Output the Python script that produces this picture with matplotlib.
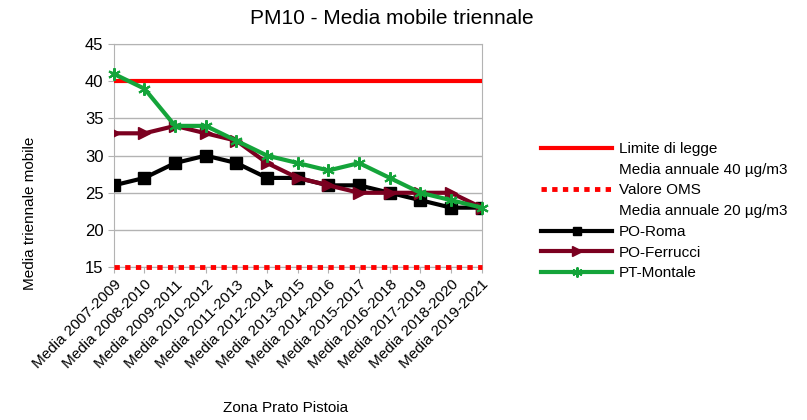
import matplotlib.pyplot as plt
from matplotlib.lines import Line2D
import numpy as np

plt.rcParams['font.family'] = ['Liberation Sans', 'DejaVu Sans']

# %% data
periodi = ['Media 2007-2009', 'Media 2008-2010', 'Media 2009-2011', 'Media 2010-2012',
           'Media 2011-2013', 'Media 2012-2014', 'Media 2013-2015', 'Media 2014-2016',
           'Media 2015-2017', 'Media 2016-2018', 'Media 2017-2019', 'Media 2018-2020',
           'Media 2019-2021']
po_roma = [26, 27, 29, 30, 29, 27, 27, 26, 26, 25, 24, 23, 23]
po_ferrucci = [33, 33, 34, 33, 32, 29, 27, 26, 25, 25, 25, 25, 23]
pt_montale = [41, 39, 34, 34, 32, 30, 29, 28, 29, 27, 25, 24, 23]
limite_legge = 40
valore_oms = 15

# %% plot
fig = plt.figure(figsize=(8.07, 4.2), dpi=100)
ax = fig.add_axes([0.141, 0.364, 0.456, 0.531])
x = np.arange(len(periodi))

l1, = ax.plot(x, [limite_legge] * len(x), color='#ff0000', lw=3, zorder=3)
l2, = ax.plot(x, [valore_oms] * len(x), color='#ff0000', lw=3.5, dashes=(1.1, 1.1),
              zorder=3, clip_on=False)
l3, = ax.plot(x, po_roma, color='black', lw=3, marker='s', ms=8, zorder=4)
l4, = ax.plot(x, po_ferrucci, color='#7b0020', lw=3, marker='>', ms=9, zorder=4)
l5, = ax.plot(x, pt_montale, color='#14a43a', lw=3, marker=(6, 2, 0), ms=9, mew=1.5,
              zorder=5, clip_on=False)

ax.set_xlim(0, len(x) - 1)
ax.set_ylim(15, 45)
ax.set_yticks(range(15, 46, 5))
ax.set_xticks(x)
ax.set_xticklabels(periodi, rotation=45, ha='right', rotation_mode='anchor', fontsize=11)
ax.tick_params(axis='y', labelsize=12, length=4, color='#b3b3b3')
ax.tick_params(axis='x', length=4, color='#b3b3b3')
ax.grid(axis='y', color='#b3b3b3', lw=1)
ax.set_axisbelow(True)
for s in ax.spines.values():
    s.set_color('#b3b3b3')

# title is centred on the whole chart area, not on the plot
fig.text(392 / 807, 1 - 18 / 420, 'PM10 - Media mobile triennale', fontsize=15,
         ha='center', va='center')
ax.set_ylabel('Media triennale mobile', fontsize=11)
ax.yaxis.set_label_coords(-0.21, 0.24)
ax.set_xlabel('Zona Prato Pistoia', fontsize=11, labelpad=23)
ax.xaxis.set_label_coords(0.467, -0.6)

# second lines of the two long labels go in as blank entries, like the original
vuoto = Line2D([], [], color='none')
handles = [l1, vuoto, l2, vuoto, l3, l4, l5]
labels = ['Limite di legge', 'Media annuale 40 µg/m3', 'Valore OMS',
          'Media annuale 20 µg/m3', 'PO-Roma', 'PO-Ferrucci', 'PT-Montale']
fig.legend(handles, labels, loc='upper left', bbox_to_anchor=(0.67, 0.662),
           frameon=False, numpoints=1, markerscale=0.8, fontsize=11,
           handlelength=4.7, labelspacing=0.44, handletextpad=0.4,
           borderpad=0, borderaxespad=0)

fig.savefig('out.png', dpi=100)
